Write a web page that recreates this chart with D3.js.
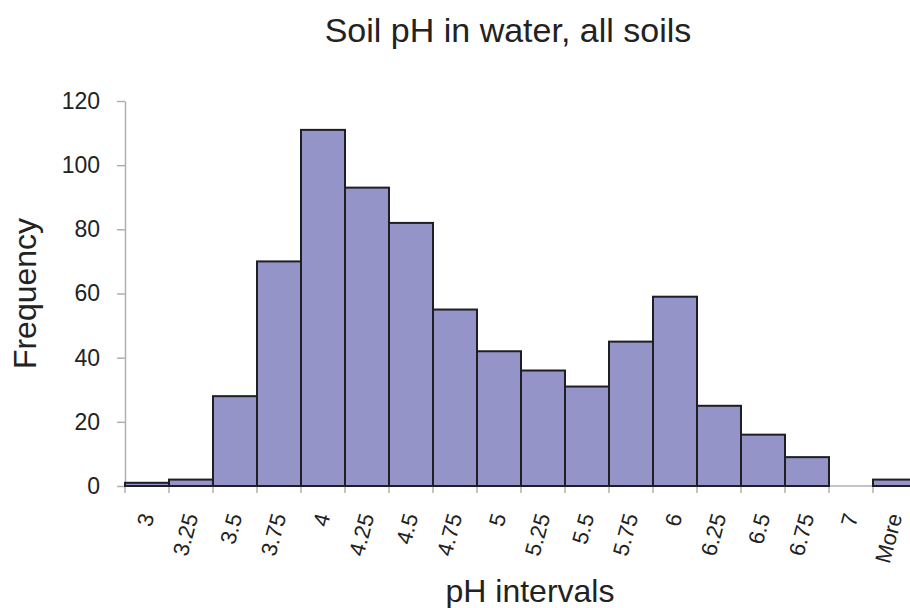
<!DOCTYPE html>
<html>
<head>
<meta charset="utf-8">
<script src="https://cdn.jsdelivr.net/npm/d3@7"></script>
<style>
  body { margin: 0; background: #fff; }
  svg { display: block; font-family: "Liberation Sans", Arial, sans-serif; }
</style>
</head>
<body>
<div id="chart"></div>
<script>
// pH bins and frequencies
const phBins = ['3', '3.25', '3.5', '3.75', '4', '4.25', '4.5', '4.75', '5', '5.25',
                '5.5', '5.75', '6', '6.25', '6.5', '6.75', '7', 'More']
const frequencies = [1, 2, 28, 70, 111, 93, 82, 55, 42, 36, 31, 45, 59, 25, 16, 9, 0, 2]
const yTicks = [0, 20, 40, 60, 80, 100, 120]

const width = 910
const height = 608
const margin = { left: 125, top: 101, bottom: 122 }

const svg = d3.select('#chart').append('svg')
    .attr('width', width)
    .attr('height', height)

const data = phBins.map((b, i) => ({ bin: b, value: frequencies[i] }))

// the plot runs a little past the right edge in the original
const xScale = d3.scaleBand()
    .domain(phBins)
    .range([margin.left, margin.left + 44 * phBins.length])
    .padding(0)

const yScale = d3.scaleLinear()
    .domain([0, 120])
    .range([height - margin.bottom, margin.top])

const axisColor = '#b0b0b0'
const textColor = '#222'

// y axis
const yAxis = svg.append('g')
    .attr('transform', `translate(${margin.left},0)`)
    .call(d3.axisLeft(yScale).tickValues(yTicks).tickSize(8).tickSizeOuter(0).tickPadding(17))
yAxis.select('.domain').attr('stroke', axisColor).attr('stroke-width', 1.5)
yAxis.selectAll('.tick line').attr('stroke', axisColor).attr('stroke-width', 1.5)
yAxis.selectAll('.tick text')
    .attr('fill', textColor)
    .style('font-size', '23px')

// x axis line + ticks at bin boundaries
const y0 = yScale(0)
svg.append('line')
    .attr('x1', xScale.range()[0]).attr('x2', xScale.range()[1])
    .attr('y1', y0).attr('y2', y0)
    .attr('stroke', axisColor).attr('stroke-width', 1.5)

svg.append('g')
    .selectAll('line')
    .data(phBins)
    .enter()
    .append('line')
    .attr('x1', d => xScale(d)).attr('x2', d => xScale(d))
    .attr('y1', y0).attr('y2', y0 + 7)
    .attr('stroke', axisColor).attr('stroke-width', 1.5)

// bars
svg.append('g')
    .selectAll('rect')
    .data(data.filter(d => d.value > 0))
    .enter()
    .append('rect')
    .attr('x', d => xScale(d.bin))
    .attr('y', d => yScale(d.value))
    .attr('width', xScale.bandwidth())
    .attr('height', d => y0 - yScale(d.value))
    .attr('fill', '#9494c8')
    .attr('stroke', '#1e1e24')
    .attr('stroke-width', 2)

// rotated bin labels
svg.append('g')
    .selectAll('text')
    .data(phBins)
    .enter()
    .append('text')
    .attr('transform', d => `translate(${xScale(d) + xScale.bandwidth() / 2},${y0 + 28}) rotate(-75)`)
    .attr('text-anchor', 'end')
    .attr('dy', '0.35em')
    .attr('fill', textColor)
    .style('font-size', '22px')
    .text(d => d)

// titles
svg.append('text')
    .attr('x', 508)
    .attr('y', 42)
    .attr('text-anchor', 'middle')
    .attr('fill', textColor)
    .style('font-size', '34px')
    .text('Soil pH in water, all soils')

svg.append('text')
    .attr('transform', `translate(36,${(yScale(0) + yScale(120)) / 2}) rotate(-90)`)
    .attr('text-anchor', 'middle')
    .attr('fill', textColor)
    .style('font-size', '32px')
    .text('Frequency')

svg.append('text')
    .attr('x', 530)
    .attr('y', 602)
    .attr('text-anchor', 'middle')
    .attr('fill', textColor)
    .style('font-size', '32px')
    .text('pH intervals')
</script>
</body>
</html>
